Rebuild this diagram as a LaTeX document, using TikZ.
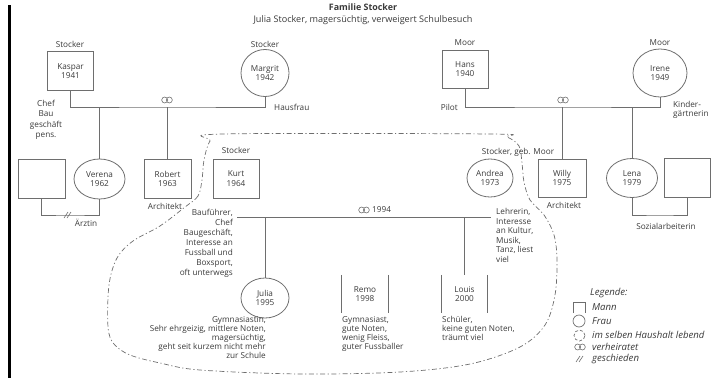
\documentclass[tikz,border=0pt]{standalone}
\usepackage{fontspec}
\setmainfont{Open Sans}
\usetikzlibrary{shapes.geometric}
\definecolor{ink}{HTML}{3A3A3A}
\definecolor{wire}{HTML}{6E6E6E}
\begin{document}
\begin{tikzpicture}[x=1pt,y=-1pt,
  every node/.style={text=ink, font=\fontsize{8.2}{9.6}\selectfont, inner sep=0pt},
  man/.style={draw=wire, line width=0.8pt, minimum width=46pt, minimum height=39pt, align=center},
  woman/.style={draw=wire, line width=0.8pt, ellipse, minimum width=50pt, minimum height=40pt, align=center},
  kidbox/.style={minimum width=46pt, minimum height=38pt, align=center},
  rel/.style={draw=wire, line width=0.8pt},
  home/.style={draw=wire, line width=0.7pt, dash pattern=on 5pt off 2.5pt on 1.2pt off 2.5pt},
  legtext/.style={anchor=west, font=\itshape\fontsize{9.6}{10}\selectfont},
  ringmark/.pic={\draw[wire, line width=0.6pt] (-2.3,0) circle[radius=3pt] (2.3,0) circle[radius=3pt];},
  divmark/.pic={\draw[wire, line width=0.6pt] (-5,3) -- (-1,-3) (-2,3) -- (2,-3);}
]
\useasboundingbox (0,0) rectangle (711,380);

% page margin rule
\draw[line width=3pt] (9,5) -- (9,378);

% heading
\node[font=\bfseries\fontsize{8.9}{10}\selectfont] (title) at (363,7) {Familie Stocker};
\node[font=\fontsize{9.1}{10}\selectfont] (sub) at (363,20) {Julia Stocker, magersüchtig, verweigert Schulbesuch};

% household boundary
\draw[home] plot[smooth cycle, tension=0.55] coordinates {
  (202,180) (198,196) (185,207) (160,226) (133,241) (117,258) (109,285)
  (108,327) (114,344) (130,355) (160,363) (200,370) (300,374) (400,372)
  (470,364) (520,347) (545,325) (555,295) (557,260) (554,235) (544,215)
  (530,200) (524,182) (522,163) (519,146) (507,137) (490,134) (223,134)
  (210,141) (204,160)};

% grandparents Stocker
\node[man] (kaspar) at (70.5,71) {Kaspar\\1941};
\node[woman, minimum width=48pt, minimum height=47pt] (margrit) at (265,73) {Margrit\\1942};
\node (stk1) at (70,44) {Stocker};
\node (stk2) at (265,44) {Stocker};
\node[align=center, font=\fontsize{8.2}{10.5}\selectfont] (chef) at (46,120) {Chef\\Bau\\geschäft\\pens.};
\node[anchor=west] (haus) at (274,107) {Hausfrau};

% grandparents Moor
\node[man, minimum height=38pt] (hans) at (465,69) {Hans\\1940};
\node[woman, minimum width=54pt, minimum height=48pt] (irene) at (660,73) {Irene\\1949};
\node (moor1) at (465,43) {Moor};
\node (moor2) at (660,43) {Moor};
\node[anchor=east] (pilot) at (458,107) {Pilot};
\node[align=left, anchor=west] (kg) at (673,110) {Kinder-\\gärtnerin};

% second generation
\node[man, minimum width=47pt] (exv) at (41.5,178.5) {};
\node[woman, minimum width=51pt] (verena) at (99.5,179) {Verena\\1962};
\node[man, minimum width=47pt] (robert) at (167.5,179) {Robert\\1963};
\node[man] (kurt) at (236,178.5) {Kurt\\1964};
\node (stk3) at (236,150) {Stocker};
\node[woman, minimum width=46pt, minimum height=38pt] (andrea) at (490,178) {Andrea\\1973};
\node (geb) at (518,152) {Stocker, geb. Moor};
\node[man, minimum width=48pt, minimum height=38pt] (willy) at (562,178) {Willy\\1975};
\node[woman, minimum width=51pt, minimum height=39pt] (lena) at (632,178) {Lena\\1979};
\node[man] (exl) at (687.5,178) {};

\node (arzt) at (86,223) {Ärztin};
\node (arch1) at (165,206) {Architekt};
\node (arch2) at (564,205) {Architekt};
\node (sozial) at (666,226) {Sozialarbeiterin};

% marriage Kaspar -- Margrit
\coordinate (m1) at (167,107);
\draw[rel] (kaspar.south) |- (m1) -| (margrit.south);
\draw[rel] (verena.north) -- (verena.north |- m1);
\draw[rel] (robert.north) -- (robert.north |- m1);
\pic at (167,100) {ringmark};

% marriage Hans -- Irene
\coordinate (m2) at (563,107);
\draw[rel] (hans.south) |- (m2) -| (irene.south);
\draw[rel] (willy.north) -- (willy.north |- m2);
\draw[rel] (lena.north) -- (lena.north |- m2);
\pic at (563,100) {ringmark};

% Verena, divorced
\coordinate (d1) at (70,215);
\draw[rel] (exv.south) |- (d1) -| (verena.south);
\pic at (69,215) {divmark};

% Lena and partner
\coordinate (l1) at (660,215);
\draw[rel] (lena.south) |- (l1) -| (exl.south);

% marriage Kurt -- Andrea
\coordinate (k1) at (237,217);
\coordinate (a1) at (491,217);
\draw[rel] (k1) -- (a1);
\pic at (364,210) {ringmark};
\node[anchor=west] (yr) at (372,210) {1994};

\node[align=right, anchor=north east, font=\fontsize{8.2}{10}\selectfont] (bau) at (233,209)
  {Bauführer,\\Chef\\Baugeschäft,\\Interesse an\\Fussball und\\Boxsport,\\oft unterwegs};
\node[align=left, anchor=north west] (lehr) at (496,208)
  {Lehrerin,\\Interesse\\an Kultur,\\Musik,\\Tanz, liest\\viel};

% children
\node[woman, minimum width=48pt, minimum height=40pt] (julia) at (265,298) {Julia\\1995};
\node[kidbox] (remo) at (365,294) {Remo\\1998};
\node[kidbox] (louis) at (464.5,294) {Louis\\2000};
\draw[rel] (remo.north west) -- (remo.south west) (remo.north east) -- (remo.south east);
\draw[rel] (louis.north west) -- (louis.south west) (louis.north east) -- (louis.south east);
\draw[rel] (julia.north) -- (julia.north |- k1);
\draw[rel] (louis.north) -- (louis.north |- k1);

\node[align=right, anchor=north east, font=\fontsize{8.2}{9}\selectfont] (jtext) at (266,316)
  {Gymnasiastin,\\Sehr ehrgeizig, mittlere Noten,\\magersüchtig,\\geht seit kurzem nicht mehr\\zur Schule};
\node[align=left, anchor=north west, font=\fontsize{8.2}{9}\selectfont] (rtext) at (342,316)
  {Gymnasiast,\\gute Noten,\\wenig Fleiss,\\guter Fussballer};
\node[align=left, anchor=north west, font=\fontsize{8.2}{9}\selectfont] (ltext) at (442,316)
  {Schüler,\\keine guten Noten,\\träumt viel};

% legend
\node[legtext] (leg) at (590,293) {Legende:};
\draw[wire, line width=0.7pt] (573,313) -- (573,302) -- (585,302) -- (585,313);
\node[legtext] (lmann) at (592,307) {Mann};
\draw[wire, line width=0.7pt] (579,321) circle[radius=6pt];
\node[legtext] (lfrau) at (592,321) {Frau};
\draw[wire, line width=0.7pt, dash pattern=on 3pt off 2pt] (579.5,335.5) circle[radius=5.5pt];
\node[legtext] (lhaus) at (592,335) {im selben Haushalt lebend};
\pic at (580,347) {ringmark};
\node[legtext] (lver) at (592,347) {verheiratet};
\pic at (581,359) {divmark};
\node[legtext] (lges) at (592,359) {geschieden};
\end{tikzpicture}
\end{document}
